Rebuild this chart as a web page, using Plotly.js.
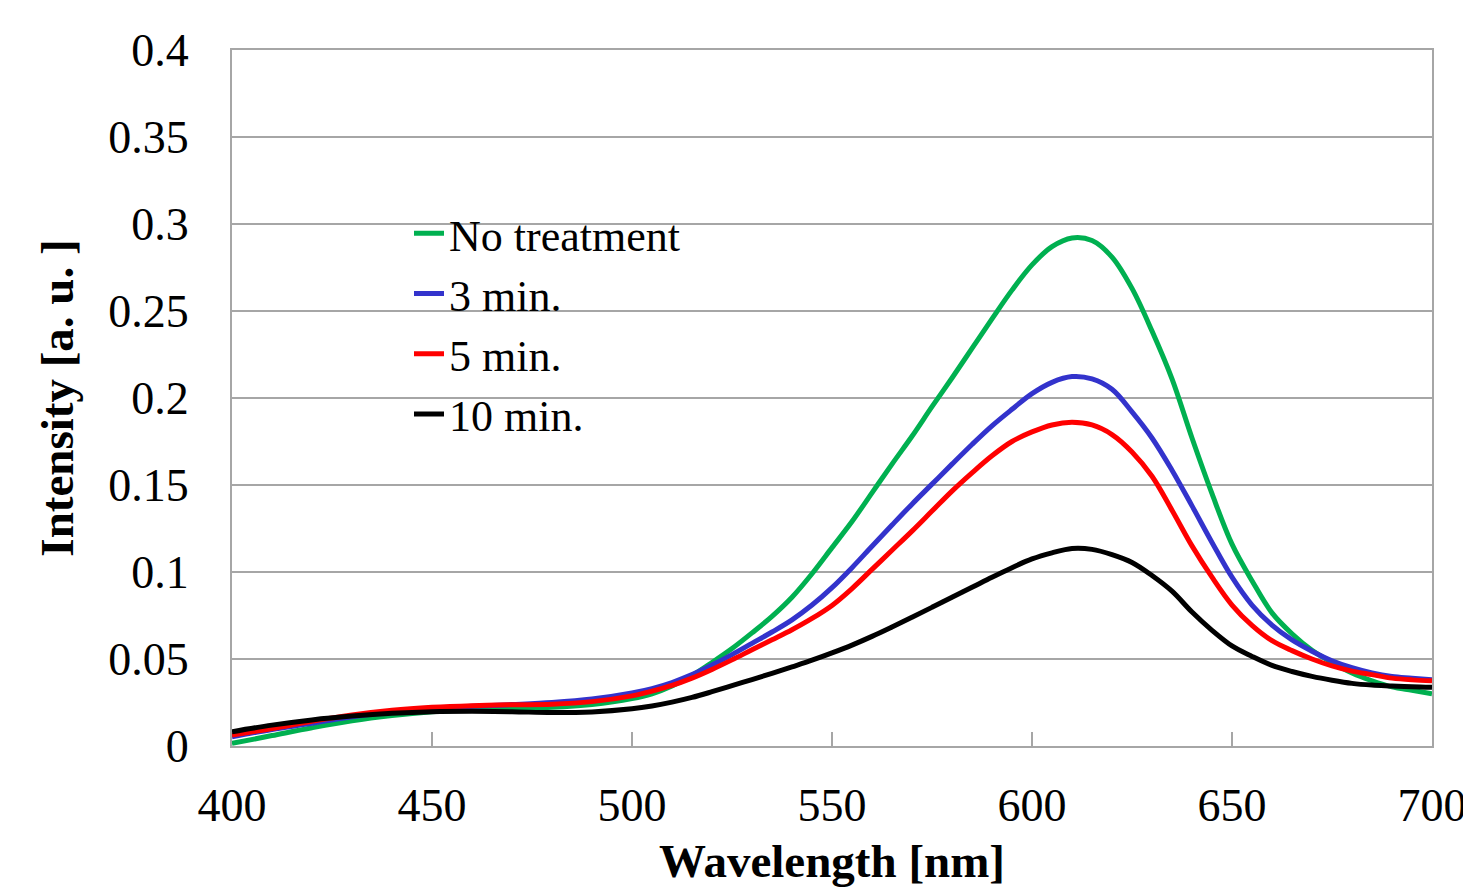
<!DOCTYPE html>
<html>
<head>
<meta charset="utf-8">
<script src="https://cdn.plot.ly/plotly-3.0.1.min.js"></script>
<style>html,body{margin:0;padding:0;background:#fff;}#chart{width:1463px;height:887px;}</style>
</head>
<body>
<div id="chart"></div>
<script>
const wavelength = [400,410,420,430,440,450,460,470,480,490,500,505,510,515,520,525,530,535,540,545,550,555,560,565,570,575,580,585,590,595,600,605,610,615,620,625,630,635,640,645,650,655,660,665,670,675,680,685,690,695,700];

const noTreatment = [0.0015,0.006,0.0105,0.0145,0.0175,0.0197,0.021,0.0218,0.0222,0.0238,0.0272,0.030,0.0345,0.0405,0.048,0.056,0.065,0.0745,0.0855,0.099,0.114,0.129,0.1455,0.162,0.178,0.195,0.2115,0.2285,0.2455,0.262,0.2765,0.287,0.292,0.2905,0.281,0.263,0.2385,0.211,0.177,0.145,0.116,0.095,0.0765,0.0645,0.055,0.048,0.042,0.0375,0.034,0.032,0.030];

const min3 = [0.0053,0.0095,0.013,0.0168,0.0195,0.0216,0.0228,0.0238,0.025,0.027,0.0305,0.033,0.0365,0.041,0.0465,0.0525,0.059,0.0655,0.0725,0.081,0.091,0.1025,0.1148,0.127,0.139,0.1505,0.162,0.1733,0.184,0.1935,0.2025,0.209,0.2123,0.211,0.205,0.192,0.177,0.1585,0.138,0.117,0.097,0.081,0.0695,0.061,0.0545,0.049,0.045,0.042,0.040,0.039,0.038];

const min5 = [0.0063,0.010,0.0142,0.0178,0.0205,0.0222,0.0232,0.0237,0.024,0.0255,0.0288,0.0315,0.0348,0.039,0.044,0.0495,0.0553,0.061,0.0668,0.0733,0.0808,0.0905,0.1015,0.1125,0.1235,0.135,0.1465,0.157,0.1668,0.175,0.1805,0.1845,0.186,0.1845,0.179,0.169,0.155,0.1355,0.115,0.097,0.081,0.0693,0.0605,0.0548,0.050,0.046,0.043,0.041,0.039,0.038,0.0375];

const min10 = [0.0082,0.012,0.015,0.0172,0.0188,0.0197,0.0199,0.0197,0.0192,0.0196,0.0214,0.023,0.0252,0.0279,0.0312,0.0347,0.0382,0.0418,0.0455,0.0493,0.0535,0.058,0.063,0.0684,0.074,0.0797,0.0855,0.0912,0.097,0.1025,0.1075,0.111,0.1135,0.113,0.110,0.1055,0.098,0.089,0.077,0.0665,0.0575,0.0515,0.0463,0.0428,0.040,0.0378,0.036,0.035,0.0345,0.034,0.0337];

const seriesNames = ["No treatment","3 min.","5 min.","10 min."];
const seriesValues = [noTreatment, min3, min5, min10];
const seriesColors = ["#00B050","#3333CC","#FF0000","#000000"];

const xTicks = [400,450,500,550,600,650,700];
const yTicks = [0,0.05,0.1,0.15,0.2,0.25,0.3,0.35,0.4];
const yTickText = ["0","0.05","0.1","0.15","0.2","0.25","0.3","0.35","0.4"];

const traces = seriesNames.map((n,i)=>({
  x: wavelength, y: seriesValues[i], name: n, type: 'scatter', mode: 'lines',
  line: {color: seriesColors[i], width: 5, shape: 'spline', smoothing: 1}
}));

const serif = "'Liberation Serif','Times New Roman',Times,serif";
const layout = {
  width: 1463, height: 887,
  margin: {l: 232, r: 31, t: 50, b: 141, pad: 0},
  paper_bgcolor: '#fff', plot_bgcolor: '#fff',
  font: {family: serif, color: '#000', size: 44},
  showlegend: true,
  legend: {x: 0.1475, y: 0.787, xanchor: 'left', yanchor: 'top', bgcolor: 'rgba(0,0,0,0)',
    font: {family: serif, size: 44, color: '#000'}, tracegroupgap: 0},
  xaxis: {
    range: [400, 700], tickvals: xTicks, ticktext: xTicks.map(String),
    ticks: 'inside', ticklen: 14, tickwidth: 2, tickcolor: '#a6a6a6',
    showline: true, linecolor: '#a6a6a6', linewidth: 2, mirror: true,
    showgrid: false, zeroline: false, ticklabelstandoff: 18, ticklabeloverflow: 'allow',
    tickfont: {family: serif, size: 46},
    title: {text: '<b>Wavelength [nm]</b>', font: {family: serif, size: 47}, standoff: 16}
  },
  yaxis: {
    range: [0, 0.4], tickvals: yTicks, ticktext: yTickText,
    ticks: '', showline: true, linecolor: '#a6a6a6', linewidth: 2, mirror: true,
    showgrid: true, gridcolor: '#a6a6a6', gridwidth: 2, zeroline: false,
    ticklabelstandoff: 32,
    tickfont: {family: serif, size: 46},
    title: {text: '<b>Intensity [a. u. ]</b>', font: {family: serif, size: 47}, standoff: 20}
  }
};
Plotly.newPlot('chart', traces, layout, {displayModeBar: false, staticPlot: true});
</script>
</body>
</html>
